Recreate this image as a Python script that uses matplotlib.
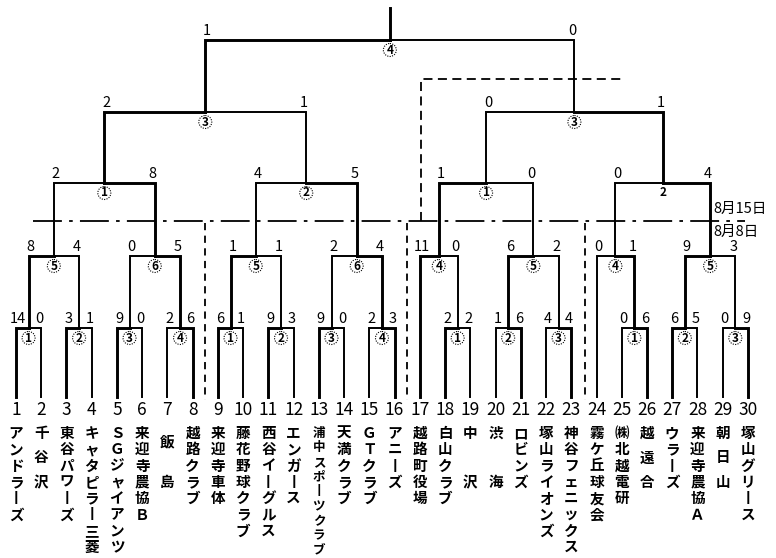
import matplotlib.pyplot as plt
from matplotlib.patches import Circle

plt.rcParams['font.family'] = ['Noto Sans CJK JP', 'DejaVu Sans']

# チーム名 (1〜30)
team_names = ['アンドラーズ', '千 谷 沢', '東谷パワーズ', 'キャタピラー三菱', 'ＳＧジャイアンツ',
              '来迎寺農協Ｂ', ' 飯   島', '越路クラブ', '来迎寺車体', '藤花野球クラブ',
              '西谷イーグルス', 'エンガース', '浦中スポーツクラブ', '天満クラブ', 'ＧＴクラブ',
              'アニーズ', '越路町役場', '白山クラブ', '中    沢', '渋    海',
              'ロビンズ', '塚山ライオンズ', '神谷フェニックス', '霧ケ丘球友会', '㈱北越電研',
              '越 遠 合', 'ウラーズ', '来迎寺農協Ａ', '朝 日 山', '塚山グリース']

# 1回戦 (シードは1チームのみ)
r1_teams = [(1, 2), (3, 4), (5, 6), (7, 8), (9, 10), (11, 12), (13, 14), (15, 16),
            (17,), (18, 19), (20, 21), (22, 23), (24,), (25, 26), (27, 28), (29, 30)]
r1_scores = [(14, 0), (3, 1), (9, 0), (2, 6), (6, 1), (9, 3), (9, 0), (2, 3),
             None, (2, 2), (1, 6), (4, 4), None, (0, 6), (6, 5), (0, 9)]
r1_no = ['1', '2', '3', '4', '1', '2', '3', '4', None, '1', '2', '3', None, '1', '2', '3']
r1_win = [0, 0, 0, 1, 0, 0, 0, 1, 0, 0, 1, 1, 0, 1, 0, 1]

# 2回戦
r2_scores = [(8, 4), (0, 5), (1, 1), (2, 4), (11, 0), (6, 2), (0, 1), (9, 3)]
r2_no = ['5', '6', '5', '6', '4', '5', '4', '5']
r2_win = [0, 1, 0, 1, 0, 0, 1, 0]

# 準々決勝
qf_scores = [(2, 8), (4, 5), (1, 0), (0, 4)]
qf_no = ['1', '2', '1', '2']
qf_circle = [True, True, True, False]
qf_win = [1, 1, 0, 1]

# 準決勝
sf_scores = [(2, 1), (0, 1)]
sf_no = ['3', '3']
sf_win = [0, 1]

# 決勝
f_scores = [(1, 0)]
f_no = ['4']
f_win = [0]

dates = ['8月15日', '8月8日']

fig = plt.figure(figsize=(7.76, 5.58), dpi=100)
ax = fig.add_axes([0, 0, 1, 1])
ax.set_xlim(0, 776)
ax.set_ylim(558, 0)
ax.axis('off')

THICK = 2.1
THIN = 1.4
y_bottom = 397
levels = [328, 256, 183, 112, 40]


def team_x(n):
    return 16 + (n - 1) * 25.24


def draw_match(a, b, y, sc, lab, win, circ=True):
    xa, ya = a
    xb, yb = b
    xc = (xa + xb) / 2
    lwa = THICK if win == 0 else THIN
    lwb = THICK if win == 1 else THIN
    ax.plot([xa, xa, xc], [ya, y, y], color='black', lw=lwa, solid_capstyle='projecting', solid_joinstyle='miter')
    ax.plot([xb, xb, xc], [yb, y, y], color='black', lw=lwb, solid_capstyle='projecting', solid_joinstyle='miter')
    ax.text(xa + 2, y - 2, str(sc[0]), ha='center', va='bottom', fontsize=10.5)
    ax.text(xb - 2, y - 2, str(sc[1]), ha='center', va='bottom', fontsize=10.5)
    ax.text(xc, y + 10, lab, ha='center', va='center', fontsize=8.5, fontweight='bold')
    if circ:
        ax.add_patch(Circle((xc, y + 10), 6.5, fill=False, lw=0.8, ls=(0, (1, 1.2)), color='black'))
    return (xc, y)


# 1回戦
slots = []
for i, t in enumerate(r1_teams):
    if len(t) == 1:
        slots.append((team_x(t[0]), y_bottom))
    else:
        slots.append(draw_match((team_x(t[0]), y_bottom), (team_x(t[1]), y_bottom),
                                levels[0], r1_scores[i], r1_no[i], r1_win[i]))

rounds = [(r2_scores, r2_no, r2_win, None),
          (qf_scores, qf_no, qf_win, qf_circle),
          (sf_scores, sf_no, sf_win, None),
          (f_scores, f_no, f_win, None)]
for k, (scs, nos, wins, circs) in enumerate(rounds):
    new = []
    for j in range(len(scs)):
        c = True if circs is None else circs[j]
        new.append(draw_match(slots[2 * j], slots[2 * j + 1], levels[k + 1],
                              scs[j], nos[j], wins[j], c))
    slots = new

# 優勝
ax.plot([slots[0][0], slots[0][0]], [levels[-1], 8], color='black', lw=THICK)

# 日付の区切り線
ax.plot([33, 745], [221, 221], color='black', lw=1.3, ls=(0, (16, 4, 2, 4)))
ax.text(713, 209, dates[0], ha='left', va='center', fontsize=10.5)
ax.text(713, 232, dates[1], ha='left', va='center', fontsize=10.5)

# 会場区分の点線
for xv in [205, 407, 585]:
    ax.plot([xv, xv], [223, 400], color='black', lw=1.3, ls=(0, (4, 3)))
ax.plot([421, 421, 624], [221, 79, 79], color='black', lw=1.3, ls=(0, (5, 3)))

# チーム番号と名前 (縦書き)
for n, name in enumerate(team_names, start=1):
    x = team_x(n)
    ax.text(x, 410, str(n), ha='center', va='center', fontsize=12.5)
    steps = sum(0.5 if ch == ' ' else 1 for ch in name) - 1
    pitch = min(16.3, 118 / steps)
    fs = 10.5 if pitch >= 16.3 else 10.5 * pitch / 16.3 * 0.95
    pos = 0.0
    for ch in name:
        if ch == ' ':
            pos += 0.5
            continue
        if ch == 'ー':
            ch = '丨'
        ax.text(x, 433 + pos * pitch, ch, ha='center', va='center', fontsize=fs, fontweight='bold')
        pos += 1

fig.savefig('out.png', dpi=100)
